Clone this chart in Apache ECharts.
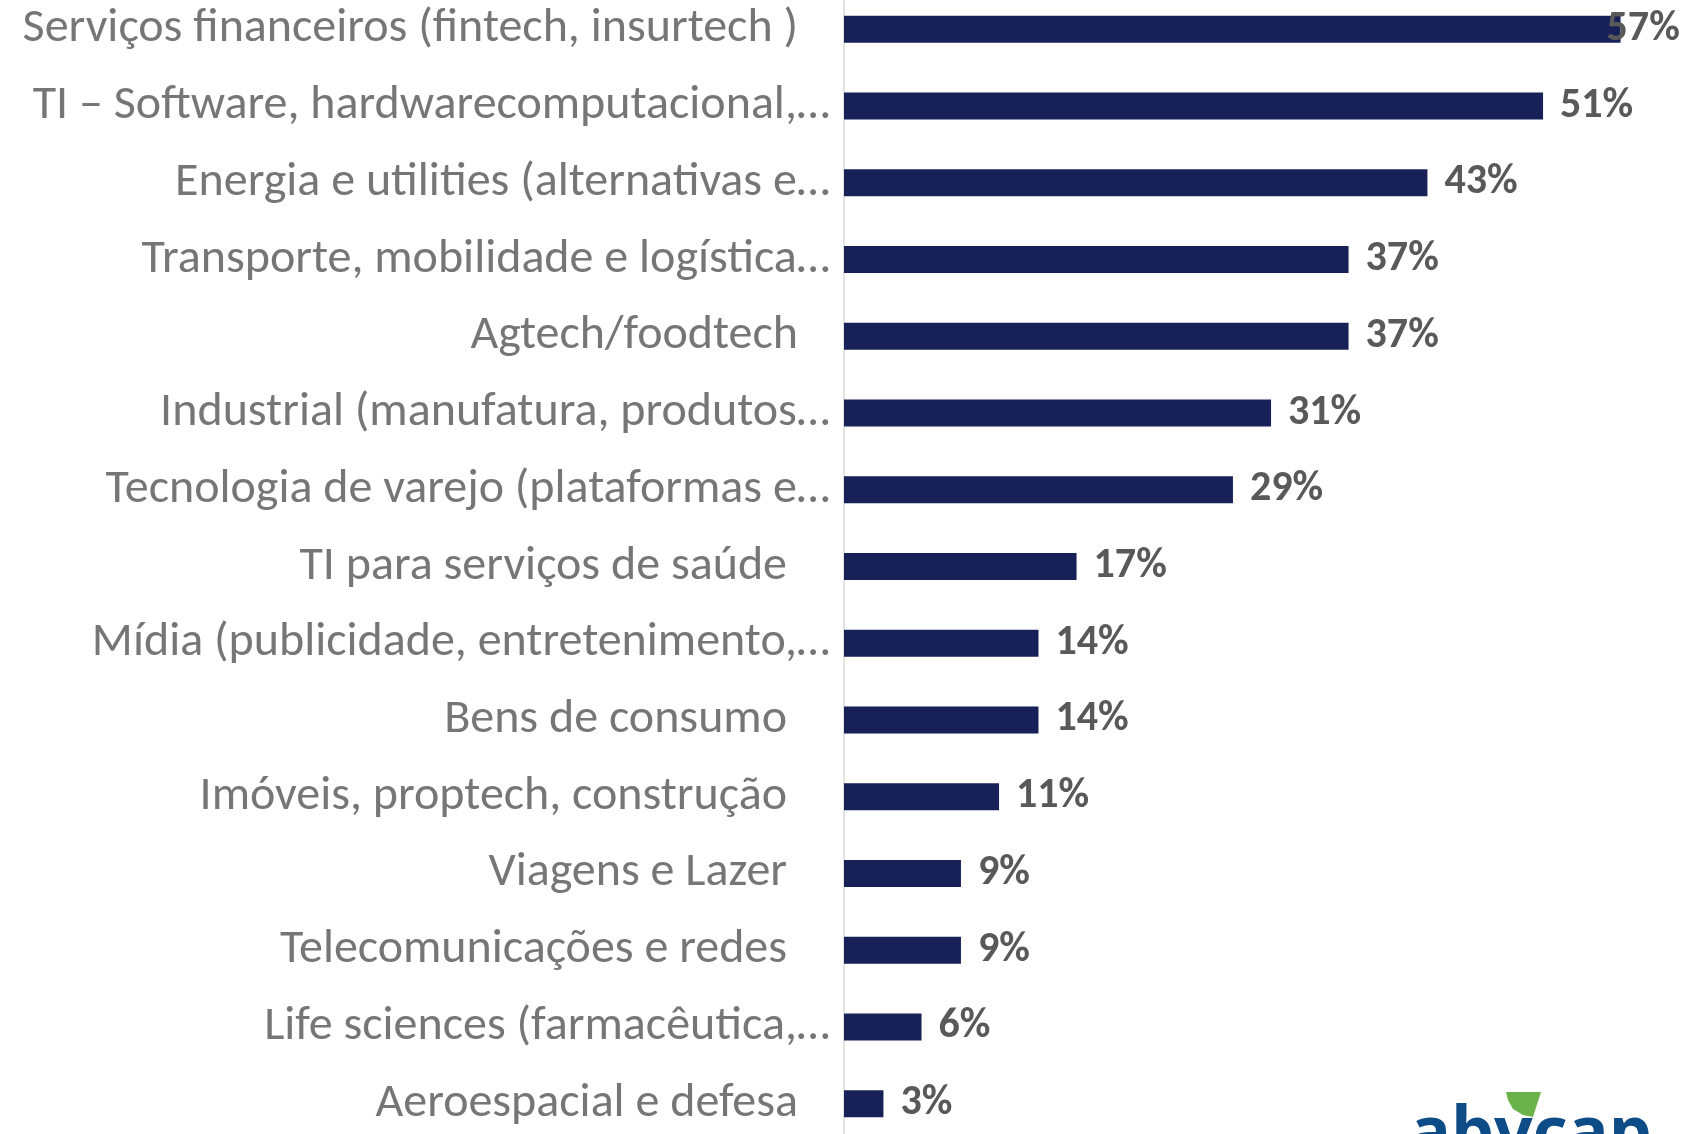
<!DOCTYPE html>
<html>
<head>
<meta charset="utf-8">
<script src="https://cdn.jsdelivr.net/npm/echarts@6/dist/echarts.min.js"></script>
<style>
  html, body { margin: 0; padding: 0; background: #fff; overflow: hidden; }
  /* o gráfico original começa um pouco acima da borda da imagem */
  #chart { position: absolute; left: 0; top: -9px; width: 1706px; height: 1151px; }
</style>
</head>
<body>
<div id="chart"></div>
<script>
  // setores (como aparecem no gráfico, já truncados pelo Excel)
  var categories = [
    'Serviços financeiros (fintech, insurtech )',
    'TI – Software, hardwarecomputacional,…',
    'Energia e utilities (alternativas e…',
    'Transporte, mobilidade e logística…',
    'Agtech/foodtech',
    'Industrial (manufatura, produtos…',
    'Tecnologia de varejo (plataformas e…',
    'TI para serviços de saúde',
    'Mídia (publicidade, entretenimento,…',
    'Bens de consumo',
    'Imóveis, proptech, construção',
    'Viagens e Lazer',
    'Telecomunicações e redes',
    'Life sciences (farmacêutica,…',
    'Aeroespacial e defesa'
  ];
  var values = [57.1, 51.4, 42.9, 37.1, 37.1, 31.4, 28.6, 17.1, 14.3, 14.3, 11.4, 8.6, 8.6, 5.7, 2.9];

  var labelFont = 'Carlito, Lato, sans-serif';
  var maxVal = Math.max.apply(null, values);

  // recuo extra à direita de alguns rótulos (espaços no original)
  function labelPad(name) {
    if (name.slice(-1) === '…') return 0;
    if (['Serviços financeiros (fintech, insurtech )', 'Agtech/foodtech', 'Aeroespacial e defesa'].indexOf(name) >= 0) return 32;
    return 43;
  }

  var chart = echarts.init(document.getElementById('chart'));
  chart.setOption({
    animation: false,
    backgroundColor: '#ffffff',
    grid: { left: 844, right: 46, top: 0, bottom: 0, containLabel: false },
    xAxis: {
      type: 'value',
      min: 0,
      max: 60,
      show: false
    },
    yAxis: {
      type: 'category',
      inverse: true,
      data: categories,
      axisLine: { show: true, lineStyle: { color: '#d9d9d9', width: 1.5 } },
      axisTick: { show: false },
      axisLabel: {
        margin: 14,
        formatter: function (v) {
          return '{t|' + v + '}{p' + labelPad(v) + '|}';
        },
        rich: {
          t: { fontFamily: labelFont, fontSize: 48, color: '#767676' },
          p0: { width: 0 },
          p32: { width: 32 },
          p43: { width: 43 }
        }
      }
    },
    series: [{
      type: 'bar',
      barWidth: 27,
      itemStyle: { color: '#172157' },
      data: values.map(function (v) {
        var item = { value: v };
        if (v === maxVal) item.label = { offset: [-31, 0] };
        return item;
      }),
      label: {
        show: true,
        position: 'right',
        distance: 17,
        formatter: function (p) { return Math.round(p.value) + '%'; },
        fontFamily: labelFont,
        fontWeight: 'bold',
        fontSize: 42,
        color: '#595959'
      }
    }],
    graphic: [
      {
        type: 'text',
        x: 1410,
        y: 1111,
        silent: true,
        style: {
          text: 'abvcap',
          font: 'bold 68px "Open Sans", sans-serif',
          fill: '#0d4c86'
        }
      },
      {
        type: 'polygon',
        silent: true,
        shape: {
          points: [[1506, 1101], [1541, 1101], [1533, 1126], [1523, 1124], [1513, 1118], [1508, 1109]]
        },
        style: { fill: '#6ab24a' }
      }
    ]
  });
</script>
</body>
</html>
